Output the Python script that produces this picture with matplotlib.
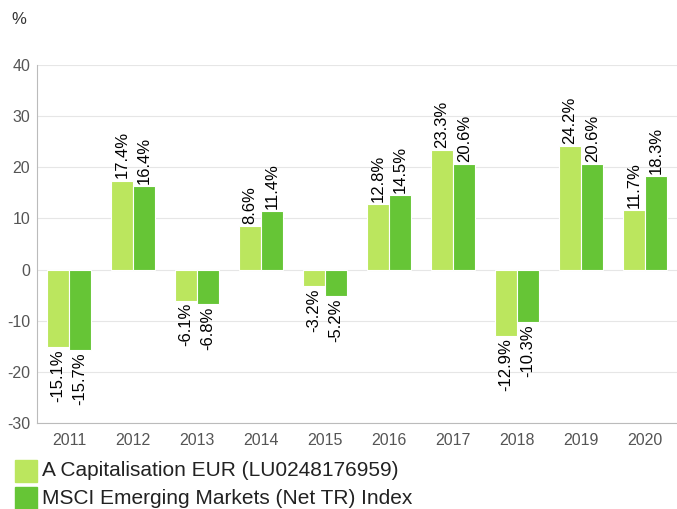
import matplotlib.pyplot as plt
from matplotlib.patches import Rectangle
import numpy as np

plt.rcParams['font.family'] = ['Liberation Sans', 'DejaVu Sans']
plt.rcParams['axes.unicode_minus'] = False

years = ['2011', '2012', '2013', '2014', '2015', '2016', '2017', '2018', '2019', '2020']
fund = [-15.1, 17.4, -6.1, 8.6, -3.2, 12.8, 23.3, -12.9, 24.2, 11.7]
index = [-15.7, 16.4, -6.8, 11.4, -5.2, 14.5, 20.6, -10.3, 20.6, 18.3]
names = ['A Capitalisation EUR (LU0248176959)', 'MSCI Emerging Markets (Net TR) Index']
colors = ['#BBE65E', '#66C536']

fig = plt.figure(figsize=(6.77, 5.09), dpi=100)
ax = fig.add_axes([37 / 677, 1 - 423 / 509, 1 - 37 / 677, (423 - 65) / 509])

x = np.arange(len(years))
w = 0.35
for off, vals, col in [(-w / 2, fund, colors[0]), (w / 2, index, colors[1])]:
    ax.bar(x + off, vals, width=w, color=col, edgecolor='white', linewidth=0.8, zorder=2)
    for xi, v in zip(x + off, vals):
        if v >= 0:
            ax.annotate(f'{v:.1f}%', (xi, v), xytext=(0, 1.5), textcoords='offset points',
                        rotation=90, ha='center', va='bottom', fontsize=12, color='black')
        else:
            ax.annotate(f'{v:.1f}%', (xi, v), xytext=(0, -1.5), textcoords='offset points',
                        rotation=90, ha='center', va='top', fontsize=12, color='black')

ax.set_xlim(-0.5, len(years) - 0.5)
ax.set_ylim(-30, 40)
ax.set_yticks(range(-30, 41, 10))
ax.set_xticks(x)
ax.set_xticklabels(years)
ax.grid(axis='y', color='#e6e6e6', linewidth=0.8, zorder=0)
ax.set_axisbelow(True)
for s in ['top', 'right']:
    ax.spines[s].set_visible(False)
ax.spines['left'].set_color('#bbbbbb')
ax.spines['bottom'].set_color('#bbbbbb')
ax.tick_params(axis='both', length=0, labelsize=11.5, colors='#555555')
ax.tick_params(axis='x', pad=7)
ax.tick_params(axis='y', pad=5)

fig.text(11 / 677, 1 - 20 / 509, '%', fontsize=12, color='#333333', va='center', ha='left')

# legend
for i, (name, col) in enumerate(zip(names, colors)):
    top = 460 + i * 27
    fig.patches.append(Rectangle((15 / 677, 1 - (top + 22) / 509), 22 / 677, 22 / 509,
                                 transform=fig.transFigure, color=col, figure=fig))
    fig.text(42 / 677, 1 - (top + 11) / 509, name, fontsize=15, color='#222222',
             va='center', ha='left')

fig.savefig('out.png', dpi=100)
